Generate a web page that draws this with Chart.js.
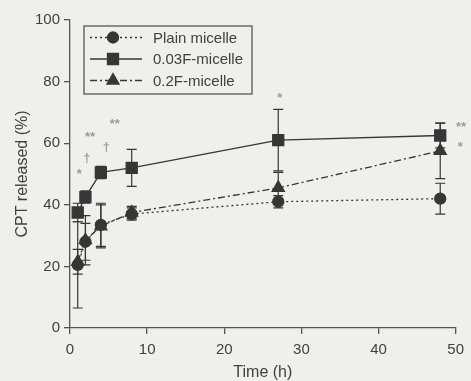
<!DOCTYPE html>
<html>
<head>
<meta charset="utf-8">
<script src="https://cdn.jsdelivr.net/npm/chart.js@4/dist/chart.umd.min.js"></script>
<style>
  html,body{margin:0;padding:0;background:#efefeb;}
  #wrap{width:471px;height:381px;}
</style>
</head>
<body>
<div id="wrap"><canvas id="release"></canvas></div>
<script>
// sampling times (h)
const times = [1, 2, 4, 8, 27, 48];

// cumulative CPT release (%) and SD
const plainMean = [20.5, 28, 33.5, 37, 41, 42];
const plainErr  = [14, 6, 7, 2, 2, 5];
const f003Mean  = [37.5, 42.5, 50.5, 52, 61, 62.5];
const f003Err   = [3, 2, 2, 6, 10, 4];
const f02Mean   = [21.5, 28.5, 33, 37.5, 45.5, 57.5];
const f02Err    = [4, 8, 7, 2, 5, 9];

const seriesNames = ['Plain micelle', '0.03F-micelle', '0.2F-micelle'];

// significance marks: [time, %, symbol]
const marks = [
  [1.2, 50, '*'], [2.2, 55, '†'], [2.6, 62, '**'],
  [4.7, 58.5, '†'], [5.8, 66, '**'],
  [27.2, 74.5, '*'],
  [50.7, 65, '**'], [50.6, 58.5, '*']
];

const yTicks = [0, 20, 40, 60, 80, 100];
const xTicks = [0, 10, 20, 30, 40, 50];

const ink = '#363636';
const textCol = '#404040';
const FONT = '"Liberation Sans", Arial, sans-serif';

function pts(mean, err){ return times.map((t,i)=>({x:t, y:mean[i], e:err[i]})); }

const datasets = [
  {label:seriesNames[0], data:pts(plainMean, plainErr), borderDash:[2,3], pointStyle:'circle', pointRadius:5.5},
  {label:seriesNames[1], data:pts(f003Mean, f003Err), borderDash:[], pointStyle:'rect', pointRadius:7.8},
  {label:seriesNames[2], data:pts(f02Mean, f02Err), borderDash:[7,3,2,3], pointStyle:'triangle', pointRadius:7}
].map(d=>Object.assign({
  borderColor:ink, backgroundColor:ink, pointBackgroundColor:ink, pointBorderColor:ink,
  borderWidth:1.3, tension:0, pointHoverRadius:d.pointRadius
}, d));

// vertical SD bars with caps, under the markers
const errorBars = {
  id:'errorBars',
  beforeDatasetsDraw(chart){
    const {ctx, scales:{x, y}} = chart;
    ctx.save();
    ctx.strokeStyle = ink;
    ctx.lineWidth = 1.2;
    chart.data.datasets.forEach(ds=>{
      ds.data.forEach(p=>{
        const px = x.getPixelForValue(p.x);
        const top = y.getPixelForValue(p.y + p.e);
        const bot = y.getPixelForValue(p.y - p.e);
        ctx.beginPath();
        ctx.moveTo(px, top); ctx.lineTo(px, bot);
        ctx.moveTo(px-5, top); ctx.lineTo(px+5, top);
        ctx.moveTo(px-5, bot); ctx.lineTo(px+5, bot);
        ctx.stroke();
      });
    });
    ctx.restore();
  }
};

const sigMarks = {
  id:'sigMarks',
  afterDatasetsDraw(chart){
    const {ctx, scales:{x, y}} = chart;
    ctx.save();
    ctx.fillStyle = '#9a9a9a';
    ctx.font = 'bold 13px ' + FONT;
    ctx.textAlign = 'center';
    ctx.textBaseline = 'middle';
    marks.forEach(([t, v, s])=>ctx.fillText(s, x.getPixelForValue(t), y.getPixelForValue(v)));
    ctx.restore();
  }
};

// boxed legend in the upper-left of the plot
const boxLegend = {
  id:'boxLegend',
  afterDraw(chart){
    const {ctx, chartArea} = chart;
    const bx = chartArea.left + 14, by = chartArea.top + 6, bw = 168, bh = 68;
    ctx.save();
    ctx.fillStyle = '#efefeb';
    ctx.fillRect(bx, by, bw, bh);
    ctx.strokeStyle = '#555';
    ctx.lineWidth = 1.3;
    ctx.strokeRect(bx, by, bw, bh);
    chart.data.datasets.forEach((ds, i)=>{
      const cy = by + 11.5 + i*21.5;
      ctx.strokeStyle = ink;
      ctx.lineWidth = 1.3;
      ctx.setLineDash(ds.borderDash);
      ctx.beginPath();
      ctx.moveTo(bx + 6, cy); ctx.lineTo(bx + 58, cy);
      ctx.stroke();
      ctx.setLineDash([]);
      ctx.fillStyle = ink;
      Chart.helpers.drawPoint(ctx, {pointStyle:ds.pointStyle, radius:ds.pointRadius, borderWidth:1}, bx + 29, cy);
      ctx.fillStyle = textCol;
      ctx.font = '15px ' + FONT;
      ctx.textAlign = 'left';
      ctx.textBaseline = 'middle';
      ctx.fillText(ds.label, bx + 69, cy + 1);
    });
    ctx.restore();
  }
};

new Chart(document.getElementById('release'), {
  type:'line',
  data:{datasets},
  plugins:[errorBars, sigMarks, boxLegend],
  options:{
    responsive:true,
    maintainAspectRatio:false,
    animation:false,
    events:[],
    layout:{padding:{top:20, right:11, left:0, bottom:0}},
    plugins:{legend:{display:false}, tooltip:{enabled:false}},
    scales:{
      x:{
        type:'linear', min:0, max:50,
        afterBuildTicks(s){ s.ticks = xTicks.map(v=>({value:v})); },
        afterFit(s){ s.height = 53; },
        border:{color:'#555', width:1.3},
        grid:{drawOnChartArea:false, drawTicks:true, tickLength:6, color:'#555', lineWidth:1.3},
        ticks:{color:textCol, padding:7, maxRotation:0, font:{family:FONT, size:15}},
        title:{display:true, text:'Time (h)', color:textCol, padding:{top:0, bottom:0}, font:{family:FONT, size:16, lineHeight:1}}
      },
      y:{
        min:0, max:100,
        afterBuildTicks(s){ s.ticks = yTicks.map(v=>({value:v})); },
        afterFit(s){ s.width = 70; },
        border:{color:'#555', width:1.3},
        grid:{drawOnChartArea:false, drawTicks:true, tickLength:6, color:'#555', lineWidth:1.3},
        ticks:{color:textCol, padding:4, font:{family:FONT, size:15}},
        title:{display:true, text:'CPT released (%)', color:textCol, padding:{top:13, bottom:0}, font:{family:FONT, size:16}}
      }
    }
  }
});
</script>
</body>
</html>
